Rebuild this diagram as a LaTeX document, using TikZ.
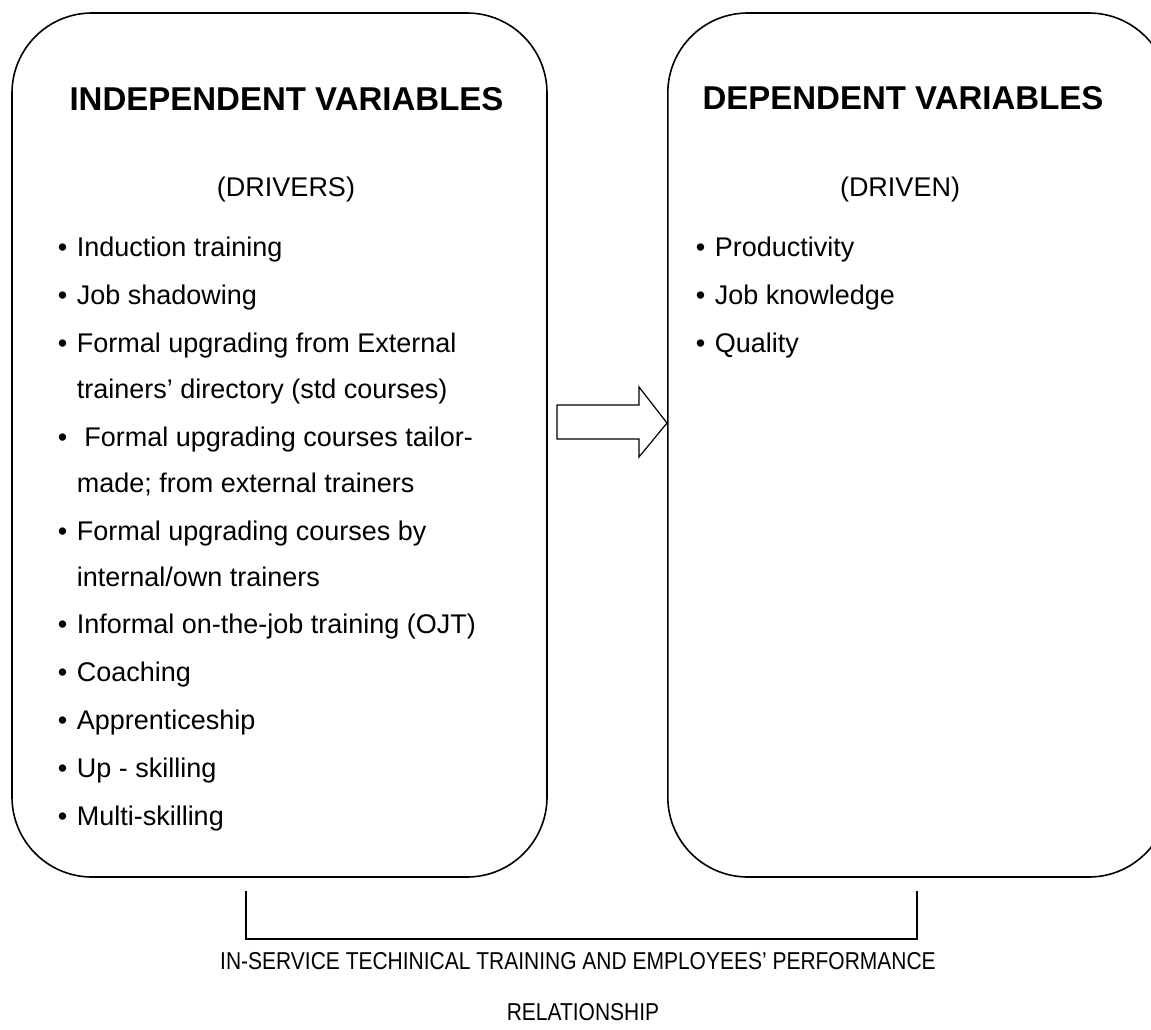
\documentclass[tikz,border=0pt]{standalone}
\usepackage{fontspec}
\setmainfont{Liberation Sans}
\newfontfamily\narrowfont[FakeStretch=0.86]{Liberation Sans}
\usetikzlibrary{positioning}
\newcommand{\itembullet}{\makebox[19pt][l]{\textbullet}}

\begin{document}
\begin{tikzpicture}[x=1pt, y=-1pt, line width=1.6pt,
  varbox/.style={draw, rounded corners=80pt, inner sep=0pt},
  heading/.style={anchor=base, inner sep=0pt, font=\fontsize{33}{40}\selectfont\bfseries},
  listline/.style={anchor=base west, inner sep=0pt, font=\fontsize{27}{32}\selectfont},
  caption/.style={anchor=base, inner sep=0pt, font=\narrowfont\fontsize{24.4}{29}\selectfont}]
\useasboundingbox (0,0) rectangle (1151,1029);
\clip (0,0) rectangle (1151,1029);
% the two variable boxes
\node[varbox, minimum width=535, minimum height=864] (indep) at (279.5,445) {};
\node[varbox, minimum width=501, minimum height=864, anchor=west] (dep) at (667,445) {};
% headings
\node[heading] (indephead) at (286.5,110) {INDEPENDENT VARIABLES};
\node[heading] (dephead) at (903,109) {DEPENDENT VARIABLES};
\node[listline, anchor=base] (drivers) at (286,196) {(DRIVERS)};
\node[listline, anchor=base] (driven) at (900,196) {(DRIVEN)};
% drivers
\foreach \xpos/\ypos/\txt [count=\i] in {
  57/256/{\itembullet Induction training},
  57/304/{\itembullet Job shadowing},
  57/352/{\itembullet Formal upgrading from External},
  76/398/{trainers’ directory (std courses)},
  57/446/{\itembullet\ Formal upgrading courses tailor-},
  76/492/{made; from external trainers},
  57/540/{\itembullet Formal upgrading courses by},
  76/586/{internal/own trainers},
  57/633/{\itembullet Informal on-the-job training (OJT)},
  57/681/{\itembullet Coaching},
  57/729/{\itembullet Apprenticeship},
  57/777/{\itembullet Up - skilling},
  57/825/{\itembullet Multi-skilling}}
  \node[listline] (drv\i) at (\xpos,\ypos) {\txt};
% driven
\foreach \ypos/\txt [count=\i] in {
  256/Productivity, 304/Job knowledge, 352/Quality}
  \node[listline] (dvn\i) at (695,\ypos) {\itembullet\txt};
% block arrow between the boxes
\draw[line width=1.2pt] (557,405) -- (639,405) -- (639,387) -- (dep.west |- 0,423)
  -- (639,457) -- (639,439) -- (557,439) -- cycle;
% bracket under the boxes
\coordinate (brl) at (246,891);
\coordinate (brr) at (917,891);
\draw (brl) -- ++(0,48) -| (brr);
% caption
\node[caption] (cap1) at (578,969) {IN-SERVICE TECHINICAL TRAINING AND EMPLOYEES’ PERFORMANCE};
\node[caption] (cap2) at (583,1020) {RELATIONSHIP};
\end{tikzpicture}
\end{document}
